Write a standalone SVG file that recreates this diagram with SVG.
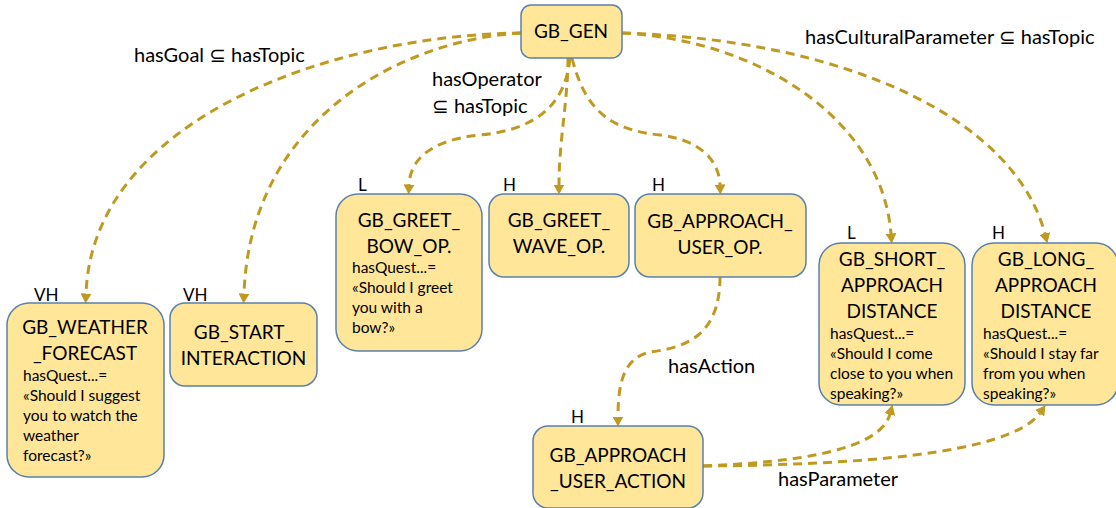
<svg xmlns="http://www.w3.org/2000/svg" width="1116" height="508" viewBox="0 0 1116 508">
  <style>
    .box { fill: #FFE699; stroke: #5A80AC; stroke-width: 1.5; }
    .title { font-family: Lato, "Liberation Sans", sans-serif; font-size: 19px; fill: #000; text-anchor: middle; }
    .quest { font-family: Lato, "Liberation Sans", sans-serif; font-size: 15.5px; fill: #000; }
    .level { font-family: Lato, "Liberation Sans", sans-serif; font-size: 17px; fill: #000; }
    .elabel { font-family: Lato, "Liberation Sans", "DejaVu Sans", sans-serif; font-size: 20px; fill: #000; }
    .edge { fill: none; stroke: #C09A20; stroke-width: 3; stroke-dasharray: 9 6; marker-end: url(#arrow); }
  </style>
  <defs>
    <marker id="arrow" markerUnits="userSpaceOnUse" markerWidth="10" markerHeight="11" viewBox="0 0 10 11" refX="0.5" refY="5.5" orient="auto">
      <path d="M0,0 L10,5.5 L0,11 z" fill="#C09A20"/>
    </marker>
  </defs>

  <rect width="1116" height="508" fill="#fff"/>

  <!-- connectors -->
  <g id="connectors">
    <path class="edge" d="M521,33 C330,35 92,120 86,294"/>
    <path class="edge" d="M521,33 C400,40 250,120 244,294"/>
    <path class="edge" d="M570,58 C565,110 530,130 480,135 C430,140 410,160 409,185"/>
    <path class="edge" d="M568,58 C568,100 559,140 559,185"/>
    <path class="edge" d="M572,58 C585,110 610,130 660,135 C700,140 719,160 720,185"/>
    <path class="edge" d="M622,33 C760,40 882,120 891,234"/>
    <path class="edge" d="M622,33 C850,40 1015,120 1045,234"/>
    <path class="edge" d="M720,277 C720,340 680,348 650,352 C625,358 618,380 618,417"/>
    <path class="edge" d="M703,466 C800,462 880,450 890,414"/>
    <path class="edge" d="M703,466 C850,465 1010,455 1040,413"/>
  </g>

  <!-- connector labels -->
  <g id="edge-labels">
    <text class="elabel" x="134" y="62">hasGoal ⊆ hasTopic</text>
    <text class="elabel" x="432" y="86">hasOperator</text>
    <text class="elabel" x="432" y="113">⊆ hasTopic</text>
    <text class="elabel" x="805" y="44">hasCulturalParameter ⊆ hasTopic</text>
    <text class="elabel" x="668" y="373">hasAction</text>
    <text class="elabel" x="778" y="486">hasParameter</text>
  </g>

  <g id="gb-gen">
    <rect class="box" x="521" y="5" width="101" height="53" rx="10"/>
    <text class="title" x="571" y="38">GB_GEN</text>
  </g>

  <g id="gb-weather-forecast">
    <text class="level" x="34" y="301">VH</text>
    <rect class="box" x="7" y="303" width="157" height="174" rx="22"/>
    <text class="title" x="85" y="334">GB_WEATHER</text>
    <text class="title" x="85" y="360">_FORECAST</text>
    <text class="quest" x="23" y="381">hasQuest...=</text>
    <text class="quest" x="23" y="401">«Should I suggest</text>
    <text class="quest" x="23" y="421">you to watch the</text>
    <text class="quest" x="23" y="441">weather</text>
    <text class="quest" x="23" y="461">forecast?»</text>
  </g>

  <g id="gb-start-interaction">
    <text class="level" x="183" y="301">VH</text>
    <rect class="box" x="170" y="303" width="147" height="83" rx="15"/>
    <text class="title" x="243.5" y="339">GB_START_</text>
    <text class="title" x="243.5" y="365">INTERACTION</text>
  </g>

  <g id="gb-greet-bow-op">
    <text class="level" x="358" y="191">L</text>
    <rect class="box" x="336" y="194" width="146" height="157" rx="22"/>
    <text class="title" x="409" y="227">GB_GREET_</text>
    <text class="title" x="409" y="253">BOW_OP.</text>
    <text class="quest" x="352" y="273">hasQuest...=</text>
    <text class="quest" x="352" y="293">«Should I greet</text>
    <text class="quest" x="352" y="313">you with a</text>
    <text class="quest" x="352" y="333">bow?»</text>
  </g>

  <g id="gb-greet-wave-op">
    <text class="level" x="503" y="191">H</text>
    <rect class="box" x="489" y="194" width="140" height="83" rx="15"/>
    <text class="title" x="559" y="227">GB_GREET_</text>
    <text class="title" x="559" y="253">WAVE_OP.</text>
  </g>

  <g id="gb-approach-user-op">
    <text class="level" x="652" y="191">H</text>
    <rect class="box" x="635" y="194" width="171" height="83" rx="15"/>
    <text class="title" x="720" y="228">GB_APPROACH_</text>
    <text class="title" x="720" y="254">USER_OP.</text>
  </g>

  <g id="gb-short-approach-distance">
    <text class="level" x="847" y="239">L</text>
    <rect class="box" x="819" y="243" width="146" height="162" rx="22"/>
    <text class="title" x="892" y="266">GB_SHORT_</text>
    <text class="title" x="892" y="292">APPROACH</text>
    <text class="title" x="892" y="318">DISTANCE</text>
    <text class="quest" x="830" y="339">hasQuest...=</text>
    <text class="quest" x="830" y="359">«Should I come</text>
    <text class="quest" x="830" y="379">close to you when</text>
    <text class="quest" x="830" y="399">speaking?»</text>
  </g>

  <g id="gb-long-approach-distance">
    <text class="level" x="992" y="239">H</text>
    <rect class="box" x="972" y="243" width="146" height="162" rx="22"/>
    <text class="title" x="1046" y="266">GB_LONG_</text>
    <text class="title" x="1046" y="292">APPROACH</text>
    <text class="title" x="1046" y="318">DISTANCE</text>
    <text class="quest" x="983" y="339">hasQuest...=</text>
    <text class="quest" x="983" y="359">«Should I stay far</text>
    <text class="quest" x="983" y="379">from you when</text>
    <text class="quest" x="983" y="399">speaking?»</text>
  </g>

  <g id="gb-approach-user-action">
    <text class="level" x="571" y="423">H</text>
    <rect class="box" x="533" y="426" width="170" height="82" rx="15"/>
    <text class="title" x="618" y="462">GB_APPROACH</text>
    <text class="title" x="618" y="488">_USER_ACTION</text>
  </g>
</svg>
